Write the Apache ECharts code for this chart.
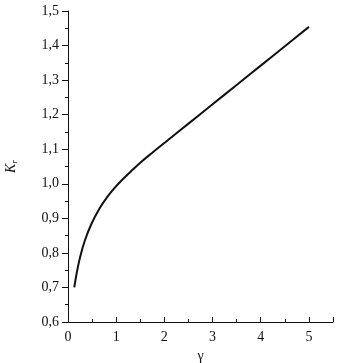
<!DOCTYPE html>
<html><head><meta charset="utf-8">
<script src="https://cdn.jsdelivr.net/npm/echarts@6/dist/echarts.min.js"></script>
<style>html,body{margin:0;padding:0;background:#fff}#c{width:342px;height:363px}</style>
</head><body><div id="c"></div>
<script>
var gammaValues = [0.13, 0.18, 0.25, 0.35, 0.49, 0.66, 0.80, 0.95, 1.1, 1.3, 1.5, 1.75, 2.0, 2.5, 3.0, 3.5, 4.0, 4.5, 5.0];
var krValues    = [0.700, 0.741, 0.787, 0.836, 0.885, 0.930, 0.959, 0.985, 1.008, 1.035, 1.061, 1.090, 1.118, 1.174, 1.230, 1.286, 1.342, 1.398, 1.454];
var xTickLabels = ['0', '1', '2', '3', '4', '5'];
var yTickLabels = ['0,6', '0,7', '0,8', '0,9', '1,0', '1,1', '1,2', '1,3', '1,4', '1,5'];

var pts = gammaValues.map(function (g, i) { return [g, krValues[i]]; });
var font = '"Liberation Serif", "DejaVu Serif", serif';
var chart = echarts.init(document.getElementById('c'), null, {renderer: 'canvas'});
chart.setOption({
  animation: false,
  backgroundColor: '#fff',
  grid: {left: 68, right: 9, top: 11, bottom: 41, containLabel: false, outerBoundsMode: 'none'},
  xAxis: {
    type: 'value', min: 0, max: 5.5, interval: 1,
    name: 'γ', nameLocation: 'middle', nameGap: 26,
    nameTextStyle: {fontFamily: font, fontSize: 14, color: '#111'},
    axisLine: {show: true, onZero: false, lineStyle: {color: '#111', width: 1}},
    axisTick: {show: true, inside: true, length: 5, lineStyle: {color: '#111'}},
    minorTick: {show: true, splitNumber: 2, length: 3, lineStyle: {color: '#111'}},
    splitLine: {show: false},
    axisLabel: {fontFamily: font, fontSize: 14, color: '#111', margin: 8,
      formatter: function (v) { var i = Math.round(v); return (Math.abs(v - i) < 1e-6 && xTickLabels[i] !== undefined) ? xTickLabels[i] : ''; }}
  },
  yAxis: {
    type: 'value', min: 0.6, max: 1.5, interval: 0.1,
    name: '{k|K}{r|r}', nameLocation: 'middle', nameGap: 49, nameRotate: 90,
    nameTextStyle: {rich: {
      k: {fontFamily: font, fontStyle: 'italic', fontSize: 14, color: '#111'},
      r: {fontFamily: font, fontStyle: 'italic', fontSize: 9, color: '#111', verticalAlign: 'bottom', padding: [6, 0, 0, 0]}
    }},
    axisLine: {show: true, lineStyle: {color: '#111', width: 1}},
    axisTick: {show: true, inside: false, length: 6, lineStyle: {color: '#111'}},
    minorTick: {show: true, splitNumber: 2, length: 3, lineStyle: {color: '#111'}},
    splitLine: {show: false},
    axisLabel: {fontFamily: font, fontSize: 14, color: '#111', margin: 9,
      formatter: function (v) { var i = Math.round((v - 0.6) * 10); return yTickLabels[i] !== undefined ? yTickLabels[i] : ''; }}
  },
  series: [{
    type: 'line', data: pts, smooth: 0.4, showSymbol: false,
    lineStyle: {color: '#111', width: 2}
  }]
});
</script></body></html>
